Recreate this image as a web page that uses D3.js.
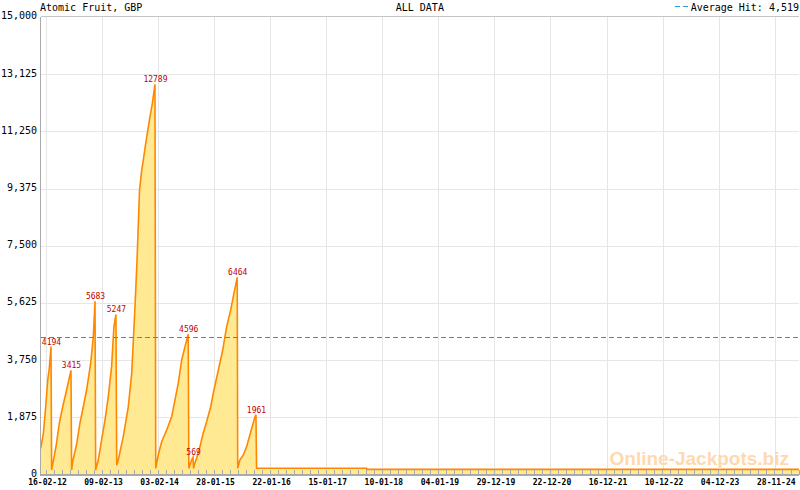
<!DOCTYPE html>
<html>
<head>
<meta charset="utf-8">
<script src="https://cdn.jsdelivr.net/npm/d3@7"></script>
<style>
  html, body { margin: 0; padding: 0; background: #fff; }
  svg { display: block; }
  text { font-family: "DejaVu Sans Mono", monospace; }
</style>
</head>
<body>
<svg id="chart" width="800" height="490"></svg>
<script>
// ---------- DATA ----------
const chartTitle = "Atomic Fruit, GBP";
const chartSubtitle = "ALL DATA";
const averageHit = 4519;

const jackpotDates = [
  "2012-01-13","2012-01-30","2012-02-14","2012-02-27","2012-03-08","2012-03-19","2012-03-23",
  "2012-04-02","2012-04-20","2012-05-11","2012-06-02","2012-06-27","2012-07-25","2012-07-29",
  "2012-08-05","2012-08-31","2012-09-20","2012-10-12","2012-11-02","2012-11-28","2012-12-15","2012-12-26","2012-12-30",
  "2013-01-16","2013-02-06","2013-02-28","2013-03-21","2013-04-11","2013-04-26","2013-05-09","2013-05-14",
  "2013-05-24","2013-06-25","2013-07-27","2013-08-18","2013-09-08","2013-09-21","2013-10-07","2013-10-21",
  "2013-10-31","2013-11-11","2013-11-22","2013-12-13","2013-12-28","2014-01-14","2014-01-19",
  "2014-02-04","2014-02-26","2014-03-30","2014-05-01","2014-05-22","2014-06-12","2014-07-04","2014-07-25","2014-08-15","2014-08-19",
  "2014-08-26","2014-09-10","2014-09-15","2014-09-18",
  "2014-09-23","2014-10-08","2014-10-29","2014-11-19","2014-12-11","2015-01-06","2015-01-27","2015-02-24",
  "2015-03-24","2015-04-18","2015-05-14","2015-06-04","2015-06-25","2015-06-28",
  "2015-07-12","2015-08-03","2015-08-24","2015-09-14","2015-10-02","2015-10-17","2015-10-23","2015-10-27",
  "2017-10-01","2017-10-02","2025-05-02"
];
const jackpotValues = [
  860,1350,2220,3095,3480,4194,150,
  420,910,1675,2220,2770,3415,150,
  420,1020,1675,2220,2770,3640,4510,5683,150,
  475,1130,1785,2550,3530,4840,5247,300,
  475,1240,2220,3315,5495,7000,9300,9970,
  10300,10680,11060,11720,12155,12789,200,
  640,1075,1460,1895,2440,2985,3750,4185,4596,200,
  310,530,569,200,
  310,540,910,1350,1730,2220,2770,3420,
  4080,4840,5390,5935,6464,200,
  475,640,910,1295,1620,1895,1961,205,
  205,168,168
];

const peakDates  = ["2012-03-19","2012-07-25","2012-12-26","2013-05-09","2014-01-14","2014-08-15","2014-09-15","2015-06-25","2015-10-23"];
const peakValues = [4194, 3415, 5683, 5247, 12789, 4596, 569, 6464, 1961];

const yTickValues = [0, 1875, 3750, 5625, 7500, 9375, 11250, 13125, 15000];
const xTickLabels = ["16-02-12","09-02-13","03-02-14","28-01-15","22-01-16","15-01-17","10-01-18",
                     "04-01-19","29-12-19","22-12-20","16-12-21","10-12-22","04-12-23","28-11-24"];
const xDomain = ["2012-01-13", "2025-05-02"];

// ---------- CHART ----------
const parse = d3.utcParse("%Y-%m-%d");
const parseTick = d3.utcParse("%d-%m-%y");
const svg = d3.select("#chart");

const mLeft = 40.7, mRight = 799, mTop = 16.9, mBottom = 474.5;

const x = d3.scaleUtc().domain(xDomain.map(parse)).range([mLeft, mRight]);
const y = d3.scaleLinear().domain([0, 15000]).range([mBottom, mTop]);

const data = jackpotDates.map((d, i) => ({ date: parse(d), value: jackpotValues[i] }));
const peaks = peakDates.map((d, i) => ({ date: parse(d), value: peakValues[i] }));
const majorTicks = xTickLabels.map(parseTick);

// minor ticks: 7 per major interval
const minorTicks = [];
const stepMs = (majorTicks[1] - majorTicks[0]) / 7;
for (let k = -7; k < 200; k++) {
  const t = new Date(+majorTicks[0] + k * stepMs);
  if (t >= x.domain()[0] && t <= x.domain()[1]) minorTicks.push(t);
}

// gridlines
const grid = svg.append("g").attr("shape-rendering", "crispEdges");
grid.selectAll("line.h").data(yTickValues.slice(1, -1)).join("line")
  .attr("x1", mLeft).attr("x2", mRight)
  .attr("y1", d => Math.round(y(d)) + 0.5).attr("y2", d => Math.round(y(d)) + 0.5)
  .attr("stroke", "#e6e6e6").attr("stroke-width", 1);
grid.selectAll("line.v").data(majorTicks).join("line")
  .attr("x1", d => Math.round(x(d)) + 0.5).attr("x2", d => Math.round(x(d)) + 0.5)
  .attr("y1", mTop).attr("y2", mBottom)
  .attr("stroke", "#e6e6e6").attr("stroke-width", 1);

// area
const area = d3.area().x(d => x(d.date)).y0(mBottom).y1(d => y(d.value));
svg.append("path").datum(data).attr("d", area).attr("fill", "#FFE992");

// line
const line = d3.line().x(d => x(d.date)).y(d => y(d.value));
svg.append("path").datum(data).attr("d", line)
  .attr("fill", "none").attr("stroke", "#FF8800").attr("stroke-width", 1.6)
  .attr("stroke-linejoin", "miter");

// average line
svg.append("line")
  .attr("shape-rendering", "crispEdges")
  .attr("x1", mLeft).attr("x2", mRight)
  .attr("y1", Math.round(y(averageHit)) + 0.5).attr("y2", Math.round(y(averageHit)) + 0.5)
  .attr("stroke", "#1E9AD6").attr("stroke-width", 1).attr("stroke-dasharray", "5,3");

// watermark
svg.append("text")
  .attr("x", 789).attr("y", 465).attr("text-anchor", "end")
  .style("font-family", "'Liberation Sans', Arial, sans-serif")
  .style("font-weight", "bold").style("font-size", "19px")
  .attr("fill", "#FFD9AE")
  .text("Online-Jackpots.biz");

// axes frame
const frame = svg.append("g").attr("shape-rendering", "crispEdges");
frame.append("line").attr("x1", mLeft).attr("x2", mRight).attr("y1", 16.5).attr("y2", 16.5)
  .attr("stroke", "#c4c4c4").attr("stroke-width", 1);
frame.append("line").attr("x1", 40.5).attr("x2", 40.5).attr("y1", mTop).attr("y2", mBottom + 1)
  .attr("stroke", "#aaaaaa").attr("stroke-width", 1);
frame.append("line").attr("x1", mLeft).attr("x2", mRight).attr("y1", 475).attr("y2", 475)
  .attr("stroke", "#aaaaaa").attr("stroke-width", 2);

// x ticks (pointing up into plot)
frame.append("g").selectAll("line").data(minorTicks).join("line")
  .attr("x1", d => Math.round(x(d)) + 0.5).attr("x2", d => Math.round(x(d)) + 0.5)
  .attr("y1", mBottom - 5).attr("y2", mBottom)
  .attr("stroke", "#aaaaaa").attr("stroke-width", 1);

// x labels
svg.append("g").selectAll("text").data(majorTicks).join("text")
  .attr("x", d => x(d) + 1.5).attr("y", 485)
  .attr("text-anchor", "middle")
  .style("font-size", "8px").style("font-weight", "bold")
  .attr("fill", "#000")
  .text((d, i) => xTickLabels[i]);

// y labels
svg.append("g").selectAll("text").data(yTickValues).join("text")
  .attr("x", 37).attr("y", d => y(d) + 2.5)
  .attr("text-anchor", "end")
  .style("font-size", "10px")
  .attr("fill", "#000")
  .text(d => d3.format(",")(d));

// peak labels
svg.append("g").selectAll("text").data(peaks).join("text")
  .attr("x", d => x(d.date) + 0.5).attr("y", d => y(d.value) - 2)
  .attr("text-anchor", "middle")
  .style("font-size", "8px")
  .attr("fill", "#C00000")
  .text(d => d.value);

// titles
svg.append("text").attr("x", 40).attr("y", 10.5)
  .style("font-size", "10px").attr("fill", "#000").text(chartTitle);
svg.append("text").attr("x", (mLeft + mRight) / 2).attr("y", 10.5).attr("text-anchor", "middle")
  .style("font-size", "10px").attr("fill", "#000").text(chartSubtitle);
svg.append("line").attr("shape-rendering", "crispEdges")
  .attr("x1", 675).attr("x2", 689).attr("y1", 6.5).attr("y2", 6.5)
  .attr("stroke", "#1E9AD6").attr("stroke-width", 1).attr("stroke-dasharray", "5,3");
svg.append("text").attr("x", 799).attr("y", 10.5).attr("text-anchor", "end")
  .style("font-size", "10px").attr("fill", "#000")
  .text("Average Hit: " + d3.format(",")(averageHit));
</script>
</body>
</html>
